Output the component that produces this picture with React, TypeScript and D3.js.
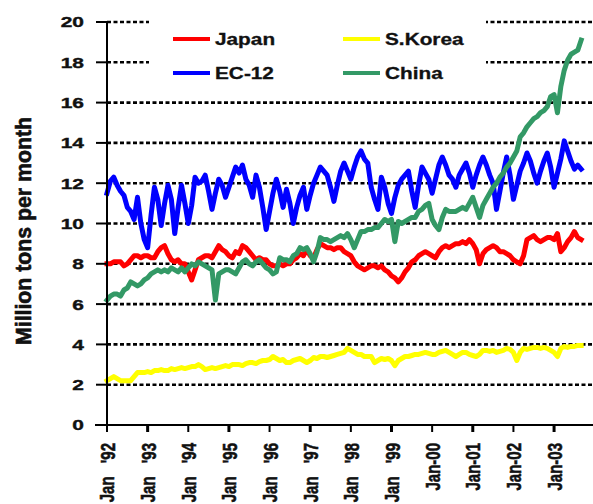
import React from "react";
import * as d3 from "d3";

// Monthly steel output, Jan 1992 onward (million tons per month)
const japan = [
  8.0, 8.0, 8.1, 8.1, 8.1, 7.9, 8.0, 8.2, 8.4, 8.4, 8.3, 8.4,
  8.4, 8.3, 8.3, 8.6, 8.8, 8.9, 8.5, 8.2, 8.1, 8.2, 8.0, 8.0,
  7.6, 7.2, 7.7, 8.2, 8.3, 8.4, 8.4, 8.3, 8.6, 8.9, 8.7, 8.6,
  8.4, 8.3, 8.6, 8.5, 8.9, 8.8, 8.6, 8.4, 8.2, 8.3, 8.2, 8.2,
  8.0, 7.9, 7.9, 8.0, 7.9, 8.0, 8.0, 8.2, 8.3, 8.5, 8.4, 8.7,
  8.4, 8.3, 8.7, 9.0, 8.9, 8.8, 8.8, 8.7, 8.8, 8.8, 8.6, 8.5,
  8.4, 8.1, 7.9, 7.8, 7.7, 7.8, 7.9, 7.9, 7.8, 7.9, 7.7, 7.6,
  7.4, 7.3, 7.1, 7.3, 7.6, 7.8, 8.1, 8.2, 8.4, 8.5, 8.6, 8.5,
  8.4, 8.3, 8.6, 8.8, 8.9, 8.8, 8.9, 9.0, 9.0, 9.1, 9.0, 9.2,
  9.0, 8.7, 8.0, 8.5, 8.7, 8.8, 8.9, 8.8, 8.6, 8.6, 8.5, 8.4,
  8.2, 8.1, 8.0, 8.4, 9.2, 9.3, 9.4, 9.2, 9.1, 9.2, 9.3, 9.3,
  9.2, 9.5, 8.6, 8.8, 9.1, 9.3, 9.6, 9.3, 9.2,
];

const sKorea = [
  2.2, 2.3, 2.4, 2.3, 2.2, 2.2, 2.2, 2.2, 2.4, 2.6, 2.6, 2.6,
  2.65, 2.6, 2.7, 2.7, 2.75, 2.7, 2.7, 2.8, 2.75, 2.8, 2.85, 2.8,
  2.85, 2.9, 2.9, 3.0, 2.9, 2.75, 2.8, 2.85, 2.8, 2.85, 2.9, 2.95,
  2.9, 3.0, 3.0, 3.0, 2.95, 3.05, 3.1, 3.1, 3.05, 3.15, 3.2, 3.2,
  3.25, 3.4, 3.3, 3.2, 3.25, 3.1, 3.1, 3.2, 3.25, 3.3, 3.2, 3.1,
  3.2, 3.35, 3.3, 3.4, 3.4, 3.35, 3.4, 3.45, 3.5, 3.55, 3.6, 3.8,
  3.7, 3.6, 3.5, 3.5, 3.4, 3.4, 3.4, 3.1, 3.2, 3.3, 3.25, 3.3,
  3.2, 2.95, 3.2, 3.3, 3.4, 3.4, 3.45, 3.5, 3.5, 3.55, 3.6, 3.55,
  3.5, 3.5, 3.6, 3.65, 3.7, 3.6, 3.5, 3.4, 3.5, 3.6, 3.6, 3.5,
  3.45, 3.4, 3.5, 3.7, 3.7, 3.65, 3.7, 3.6, 3.65, 3.7, 3.8, 3.75,
  3.6, 3.2, 3.6, 3.8, 3.75, 3.8, 3.85, 3.85, 3.8, 3.85, 3.8, 3.7,
  3.6, 3.4, 3.8, 3.9, 3.85, 3.9, 3.9, 3.95, 3.95,
];

const ec12 = [
  11.5, 12.1, 12.3, 11.9, 11.6, 11.4, 10.8, 10.6, 10.2, 11.3, 10.0, 9.2,
  8.8, 10.4, 11.8, 11.2, 9.9, 11.0, 11.9, 11.2, 9.5, 10.8, 11.9, 11.0,
  10.0, 10.9, 12.3, 12.0, 12.1, 12.4, 11.6, 10.7, 11.5, 12.2, 11.9, 11.3,
  11.8, 12.3, 12.8, 12.5, 12.9, 12.2, 11.9, 11.3, 12.4, 11.8, 10.8, 9.7,
  10.6, 11.5, 12.2, 11.6, 10.8, 11.7, 11.0, 10.0, 10.8, 11.4, 11.8, 10.7,
  11.4, 12.0, 12.4, 12.8, 12.6, 12.4, 11.8, 11.1, 11.9, 12.6, 13.0, 12.6,
  12.2, 12.8, 13.3, 13.6, 13.2, 13.0, 11.8, 11.2, 10.7, 12.3, 11.8, 11.0,
  10.5, 11.3, 11.9, 12.2, 12.4, 12.6, 11.6, 10.8, 11.9, 12.8, 12.5, 12.2,
  11.5, 12.2, 12.9, 13.3, 12.9, 12.4, 12.2, 11.8, 12.4, 12.7, 13.0, 12.5,
  11.8, 12.4, 12.9, 13.3, 12.9, 12.4, 12.0, 10.7, 11.6, 12.5, 13.3, 12.4,
  11.2, 11.9, 12.6, 13.0, 13.5, 13.1, 12.5, 12.0, 12.6, 13.1, 13.5, 12.8,
  11.8, 12.5, 13.2, 14.1, 13.6, 13.1, 12.7, 12.9, 12.7,
];

const china = [
  6.2, 6.4, 6.5, 6.5, 6.4, 6.7, 6.8, 7.1, 7.0, 6.9, 7.0, 7.2,
  7.3, 7.5, 7.6, 7.7, 7.6, 7.7, 7.6, 7.8, 7.7, 7.6, 7.8, 7.6,
  7.8, 8.0, 7.9, 8.1, 8.0, 7.9, 7.8, 7.7, 6.2, 7.5, 7.6, 7.7,
  7.7, 7.6, 7.5, 7.8, 8.1, 8.2, 8.0, 7.9, 8.1, 8.2, 8.0, 7.8,
  7.7, 7.5, 7.6, 8.3, 8.2, 8.2, 8.1, 8.4, 8.5, 8.8, 8.7, 8.8,
  8.5, 8.1, 8.6, 9.3, 9.2, 9.2, 9.1, 9.2, 9.3, 9.4, 9.3, 9.5,
  9.2, 8.8, 9.2, 9.6, 9.6, 9.7, 9.7, 9.8, 9.8, 10.0, 10.2, 10.1,
  10.2, 9.1, 10.1, 10.0, 10.1, 10.2, 10.3, 10.3, 10.6, 10.7, 10.9, 11.0,
  10.2, 9.9, 9.7, 10.3, 10.7, 10.6, 10.6, 10.6, 10.7, 10.8, 10.7, 11.0,
  11.3, 10.8, 10.3, 10.9, 11.2, 11.5, 11.8, 12.0, 12.3, 12.5, 12.8, 13.0,
  13.3, 13.6, 14.3, 14.5, 14.8, 15.0, 15.2, 15.3, 15.5, 15.6, 15.8, 16.3,
  16.4, 15.5, 16.8, 17.6, 18.1, 18.4, 18.5, 18.6, 19.1,
];

const xTickLabels = [
  "Jan '92", "Jan '93", "Jan '94", "Jan '95", "Jan '96", "Jan '97",
  "Jan '98", "Jan '99", "Jan-00", "Jan-01", "Jan-02", "Jan-03",
];
const yTicks = [0, 2, 4, 6, 8, 10, 12, 14, 16, 18, 20];

const seriesNames = ["Japan", "S.Korea", "EC-12", "China"];
const seriesColors = ["#ff0000", "#ffff00", "#0000ff", "#339966"];
const seriesData = [japan, sKorea, ec12, china];

const FONT = "'Liberation Sans', Arial, sans-serif";

export default function App() {
  const left = 107;
  const right = 592;
  const top = 22;
  const bottom = 425;

  // month index 0 = Jan 1992
  const x = d3.scaleLinear().domain([0, 143.2]).range([left, right]);
  const y = d3.scaleLinear().domain([0, 20]).range([bottom, top]);

  const line = d3
    .line<number>()
    .x((_, i) => x(i))
    .y((d) => y(d));

  const legendPos = [
    { lx: 173, ly: 39 },
    { lx: 343, ly: 39 },
    { lx: 173, ly: 73 },
    { lx: 343, ly: 73 },
  ];

  return (
    <svg
      width={593}
      height={504}
      style={{ position: "absolute", left: 0, top: 0, background: "#fff" }}
      fontFamily={FONT}
    >
      <rect width={593} height={504} fill="#fff" />

      {/* horizontal grid */}
      {yTicks
        .filter((t) => t > 0)
        .map((t) => (
          <line
            key={"g" + t}
            x1={left}
            x2={right}
            y1={y(t)}
            y2={y(t)}
            stroke="#000"
            strokeWidth={2.6}
            strokeDasharray="4 2.5"
          />
        ))}

      {/* series */}
      {seriesData.map((d, i) => (
        <path
          key={seriesNames[i]}
          d={line(d) || ""}
          fill="none"
          stroke={seriesColors[i]}
          strokeWidth={5}
          strokeLinejoin="round"
          strokeLinecap="square"
        />
      ))}

      {/* legend */}
      <rect x={149} y={12} width={337} height={76} fill="#fff" />
      {seriesNames.map((name, i) => {
        const p = legendPos[i];
        return (
          <g key={"lg" + name}>
            <line
              x1={p.lx}
              x2={p.lx + 37}
              y1={p.ly}
              y2={p.ly}
              stroke={seriesColors[i]}
              strokeWidth={4}
            />
            <g transform={`translate(${p.lx + 42},${p.ly}) scale(1.3,1)`}>
              <text
                fontSize={16}
                fontWeight="bold"
                fill="#111"
                dominantBaseline="central"
                stroke="#111"
                strokeWidth={0.3}
              >
                {name}
              </text>
            </g>
          </g>
        );
      })}

      {/* y axis */}
      <line x1={left} x2={left} y1={top - 1} y2={bottom + 7} stroke="#000" strokeWidth={2} />
      {yTicks.map((t) => (
        <g key={"yt" + t}>
          <line x1={96} x2={left} y1={y(t)} y2={y(t)} stroke="#000" strokeWidth={2} />
          <g transform={`translate(84,${y(t)}) scale(1.35,1)`}>
            <text
              fontSize={15.5}
              fontWeight="bold"
              textAnchor="end"
              dominantBaseline="central"
              fill="#111"
              stroke="#111"
              strokeWidth={0.4}
            >
              {t}
            </text>
          </g>
        </g>
      ))}

      {/* x axis */}
      <line x1={95} x2={593} y1={bottom} y2={bottom} stroke="#000" strokeWidth={2} />
      {xTickLabels.map((lab, i) => {
        const m = i * 12;
        const px = x(m);
        const sp = lab.indexOf(" ");
        return (
          <g key={"xt" + lab}>
            <line
              x1={px}
              x2={px}
              y1={bottom}
              y2={bottom + 7}
              stroke="#000"
              strokeWidth={i % 2 === 0 ? 2 : 3}
            />
            <g transform={`translate(${px},443) scale(1.4,1) rotate(-90)`}>
              <text
                fontSize={15}
                fontWeight="bold"
                textAnchor="end"
                dominantBaseline="central"
                fill="#111"
                stroke="#111"
                strokeWidth={0.4}
              >
                {sp >= 0 ? (
                  <>
                    {lab.slice(0, sp) + " "}
                    <tspan dx={9}>{lab.slice(sp + 1)}</tspan>
                  </>
                ) : (
                  lab
                )}
              </text>
            </g>
          </g>
        );
      })}

      {/* y axis title */}
      <g transform="translate(23,231) scale(1.25,1) rotate(-90)">
        <text
          fontSize={18}
          fontWeight="bold"
          textAnchor="middle"
          dominantBaseline="central"
          fill="#111"
          stroke="#111"
          strokeWidth={0.5}
          textLength={228}
          lengthAdjust="spacingAndGlyphs"
        >
          Million tons per month
        </text>
      </g>
    </svg>
  );
}
